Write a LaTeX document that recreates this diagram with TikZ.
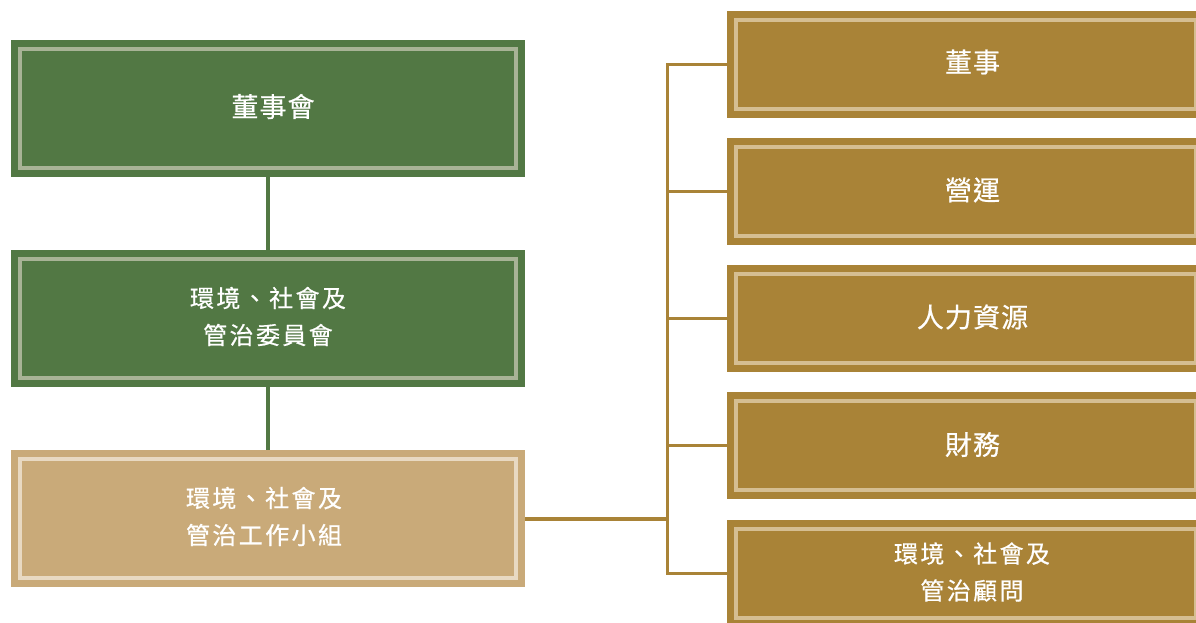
\documentclass[tikz,border=0pt]{standalone}
\usepackage{fontspec}
\newfontfamily\cjkA[LetterSpace=4,FakeBold=0.6]{Noto Sans CJK TC}
\newfontfamily\cjkB[LetterSpace=10,FakeBold=0.6]{Noto Sans CJK TC}
\definecolor{grn}{HTML}{527844}
\definecolor{grnin}{HTML}{A8B396}
\definecolor{tan}{HTML}{C9AA79}
\definecolor{tanin}{HTML}{E8D9C2}
\definecolor{gld}{HTML}{A98337}
\definecolor{gldin}{HTML}{D5BE92}
\begin{document}
\begin{tikzpicture}[x=1pt,y=-1pt,
  box/.style 2 args={draw=none, fill=#1, inner sep=0pt, outer sep=0pt,
    path picture={\draw[#2, line width=4pt]
      ([shift={(9pt,-9pt)}]path picture bounding box.north west) rectangle
      ([shift={(-9pt,9pt)}]path picture bounding box.south east);}},
  lbox/.style 2 args={box={#1}{#2}, minimum width=514pt, minimum height=137pt},
  rbox/.style={box={gld}{gldin}, minimum width=478pt, minimum height=107pt},
  txtA/.style={text=white, inner sep=0pt, font=\cjkA\fontsize{27pt}{30pt}\selectfont},
  txtB/.style={text=white, inner sep=0pt, align=center, font=\cjkB\fontsize{24pt}{37pt}\selectfont},
  gline/.style={draw=grn, line width=4pt},
  oline/.style={draw=gld, line width=3.2pt}]
\useasboundingbox (0,0) rectangle (1196,622);
% left column
\node[lbox={grn}{grnin}] (g1) at (268,108.5) {};
\node[lbox={grn}{grnin}] (g2) at (268,318.5) {};
\node[lbox={tan}{tanin}] (g3) at (268,518.5) {};
\node[txtA] (t1) at (273,106.5) {董事會};
\node[txtB] (t2) at (268,316.5) {環境、社會及\\管治委員會};
\node[txtB] (t3) at (264,516.5) {環境、社會及\\管治工作小組};
% right column
\node[rbox] (r1) at (966,64.5) {};
\node[rbox] (r2) at (966,191.5) {};
\node[rbox] (r3) at (966,318.5) {};
\node[rbox] (r4) at (966,445.5) {};
\node[rbox] (r5) at (966,573.5) {};
\node[txtA] (s1) at (972.5,62) {董事};
\node[txtA] (s2) at (972.5,190) {營運};
\node[txtA] (s3) at (972.5,317) {人力資源};
\node[txtA] (s4) at (972.5,444.5) {財務};
\node[txtB] (s5) at (972,572) {環境、社會及\\管治顧問};
% connectors
\draw[gline] (g1.south) -- (g2.north);
\draw[gline] (g2.south) -- (g3.north);
\coordinate (jt) at (667.5,64.5);
\coordinate (jb) at (667.5,573.5);
\draw[oline, line join=miter] (r1.west) -- (jt) -- (jb) -- (r5.west);
\draw[oline] (r2.west) -- (r2.west -| jt);
\draw[oline] (r3.west) -- (r3.west -| jt);
\draw[oline] (r4.west) -- (r4.west -| jt);
\draw[oline, line width=4pt] (g3.east) -- (g3.east -| jt);
\end{tikzpicture}
\end{document}
